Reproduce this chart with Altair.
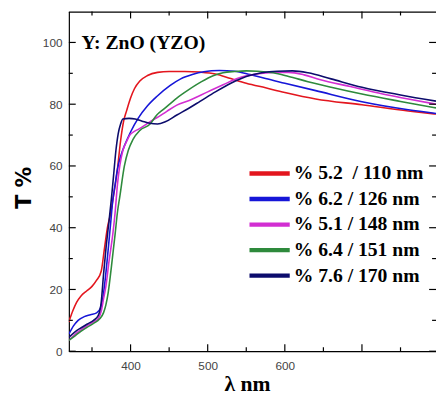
import altair as alt
import pandas as pd

# ---------------- data ----------------
labels = ["% 5.2 \u00a0/ 110 nm", "% 6.2 / 126 nm", "% 5.1 / 148 nm", "% 6.4 / 151 nm", "% 7.6 / 170 nm"]
colors = ["#e3161e", "#1616d8", "#d22ed2", "#2e8a3c", "#0c0c6c"]

red_wl = [320, 325, 330, 336, 343, 350, 356, 362, 366, 370, 374, 378, 383, 387, 391, 395, 400, 405, 412, 422,
          435, 450, 470, 490, 510, 530, 550, 575, 600, 640, 700, 760, 796]
red_T = [9.5, 13, 15.8, 18, 19.5, 21, 23, 26, 33, 40, 44.5, 50.5, 59, 68, 74.5, 78, 82, 85, 87.5, 89.3,
         90.3, 90.6, 90.6, 90.4, 89.8, 88.3, 86.8, 85.3, 83.8, 81.7, 79.8, 77.8, 76.8]

blue_wl = [320, 326, 332, 340, 348, 356, 361, 364, 367, 371, 374, 377, 380, 383, 387, 392, 400, 410, 422, 434,
           451, 465, 480, 495, 515, 535, 555, 575, 600, 640, 700, 760, 796]
blue_T = [5.5, 8.2, 10, 11.2, 11.8, 12.4, 14, 17, 23, 33, 41, 49, 54, 59, 63, 66.5, 71, 75.5, 79.5, 82.5,
          86, 88.2, 89.6, 90.5, 90.9, 90.7, 89.6, 88.3, 86.8, 84.4, 80.8, 78.2, 77]

mag_wl = [320, 328, 336, 344, 352, 358, 362, 365, 368, 372, 377, 380, 383, 386, 390, 395, 399, 405, 411, 425,
          434, 447, 460, 476, 500, 520, 540, 562, 585, 605, 625, 645, 685, 727, 760, 796]
mag_T = [3.5, 5.5, 7, 8.3, 9.5, 10.5, 13, 17, 21, 29, 38, 45, 54, 60, 65, 68, 70, 71.2, 72, 74.3,
         75.6, 77.7, 79.7, 81.2, 84, 86.3, 88.5, 89.7, 90.3, 90.3, 89.5, 88, 85.7, 83.3, 81.7, 80]

grn_wl = [320, 328, 336, 344, 352, 360, 365, 368, 371, 375, 380, 383, 386, 392, 397, 403, 412, 425, 434, 443,
          460, 476, 492, 507, 520, 535, 550, 565, 585, 605, 630, 660, 700, 750, 796]
grn_T = [3.5, 5, 6.5, 7.8, 9, 10.5, 12.5, 15, 19, 27, 38, 45, 50, 60, 65, 68.5, 71.5, 73.5, 76.5, 78.4,
         82, 84.8, 87.3, 89.2, 90.2, 90.6, 90.8, 90.7, 90.2, 89, 87.3, 85.5, 83.3, 80.9, 78.8]

navy_wl = [320, 328, 336, 344, 352, 358, 362, 365, 368, 372, 375, 378, 381, 384, 387, 390, 398, 406, 415, 425,
           435, 445, 460, 475, 490, 510, 530, 550, 570, 590, 610, 630, 660, 700, 750, 796]
navy_T = [4.5, 6.3, 7.6, 8.8, 10, 11.5, 16, 25, 33, 42, 49, 57, 65, 70.5, 73.5, 75.2, 75.4, 75.2, 74.5, 73.8,
          73.6, 74.3, 76.5, 78.6, 80.9, 84, 86.8, 89, 90.2, 90.7, 90.8, 90.2, 88.2, 85.5, 83, 81]

series_wl = [red_wl, blue_wl, mag_wl, grn_wl, navy_wl]
series_T = [red_T, blue_T, mag_T, grn_T, navy_T]

x_labels = [400, 500, 600]
x_major = [400, 500, 600, 700]
x_minor = [350, 450, 550, 650, 750]
y_labels = [0, 20, 40, 60, 80, 100]
y_major = [0, 20, 40, 60, 80, 100]
y_minor = [10, 30, 50, 70, 90]
plot_title = ["Y: ZnO (YZO)"]
x_title = ["λ nm"]

# ---------------- layout ----------------
W, H = 374, 346
xs = alt.Scale(domain=[320, 796], nice=False, zero=False)
ys = alt.Scale(domain=[0, 110], nice=False, zero=False)
label_font = "Liberation Sans Narrow, Arial Narrow, Liberation Sans"

x_axis = alt.Axis(values=x_labels, ticks=False, grid=False, labelFont=label_font,
                  labelFontSize=12, labelColor="#444", labelPadding=10, domainColor="black", domainWidth=1.2,
                  title=None)
y_axis = alt.Axis(values=y_labels, ticks=False, grid=False, labelFont=label_font,
                  labelFontSize=12, labelColor="#444", labelPadding=7, domainColor="black", domainWidth=1.2,
                  titleFont="DejaVu Sans", titleFontSize=21, titleFontWeight="bold",
                  titleAngle=270, titleX=-45, titleY=179, titleBaseline="middle",
                  titleAlign="center", titleColor="black")


def X():
    return alt.X("wl:Q", scale=xs, title=None, axis=x_axis)


def Y():
    return alt.Y("T:Q", scale=ys, title="T %", axis=y_axis)


layers = []
for wl, T, c in zip(series_wl, series_T, colors):
    df = pd.DataFrame({"wl": wl, "T": T})
    layers.append(
        alt.Chart(df).mark_line(color=c, strokeWidth=1.6, interpolate="monotone", clip=True)
        .encode(x=X(), y=Y())
    )


# ticks (inward)
def xticks(vals, length):
    d = pd.DataFrame({"wl": vals})
    bot = alt.Chart(d).mark_rule(color="black", strokeWidth=1.2).encode(
        x=X(), y=alt.value(H), y2=alt.value(H - length))
    top = alt.Chart(d).mark_rule(color="black", strokeWidth=1.2).encode(
        x=X(), y=alt.value(0), y2=alt.value(length))
    return [bot, top]


def yticks(vals, length):
    d = pd.DataFrame({"T": vals})
    left = alt.Chart(d).mark_rule(color="black", strokeWidth=1.2).encode(
        y=Y(), x=alt.value(0), x2=alt.value(length))
    right = alt.Chart(d).mark_rule(color="black", strokeWidth=1.2).encode(
        y=Y(), x=alt.value(W - length), x2=alt.value(W))
    return [left, right]


layers += xticks(x_major, 7) + xticks(x_minor, 4) + yticks(y_major, 7) + yticks(y_minor, 4)

# top frame line
layers.append(alt.Chart(pd.DataFrame({"a": [0]})).mark_rule(color="black", strokeWidth=1.2).encode(
    x=alt.value(0), x2=alt.value(W), y=alt.value(0.5)))

# in-plot title
layers.append(alt.Chart(pd.DataFrame({"t": plot_title})).mark_text(
    font="Liberation Serif", fontSize=20, fontWeight="bold", align="left", baseline="alphabetic",
    color="black").encode(text="t:N", x=alt.value(13), y=alt.value(38)))

# x-axis title (serif)
layers.append(alt.Chart(pd.DataFrame({"t": x_title})).mark_text(
    font="Liberation Serif", fontSize=22, fontWeight="bold", align="center", baseline="alphabetic",
    color="black").encode(text="t:N", x=alt.value(182), y=alt.value(H + 41)))

# manual legend
for i, (lab, c) in enumerate(zip(labels, colors)):
    yy = 165 + 26 * i
    d = pd.DataFrame({"label": [lab]})
    layers.append(alt.Chart(d).mark_rule(color=c, strokeWidth=4.5).encode(
        x=alt.value(184), x2=alt.value(225), y=alt.value(yy)))
    layers.append(alt.Chart(d).mark_text(
        font="Liberation Serif", fontSize=20, fontWeight="bold", align="left", baseline="middle",
        color="black").encode(text="label:N", x=alt.value(229), y=alt.value(yy)))

chart = alt.layer(*layers).properties(
    width=W, height=H,
    padding={"left": 62, "top": 0, "right": 0, "bottom": 43},
    autosize=alt.AutoSizeParams(type="none"),
).configure_view(stroke=None)

chart.save("out.html", embed_options={"renderer": "svg", "actions": False})
